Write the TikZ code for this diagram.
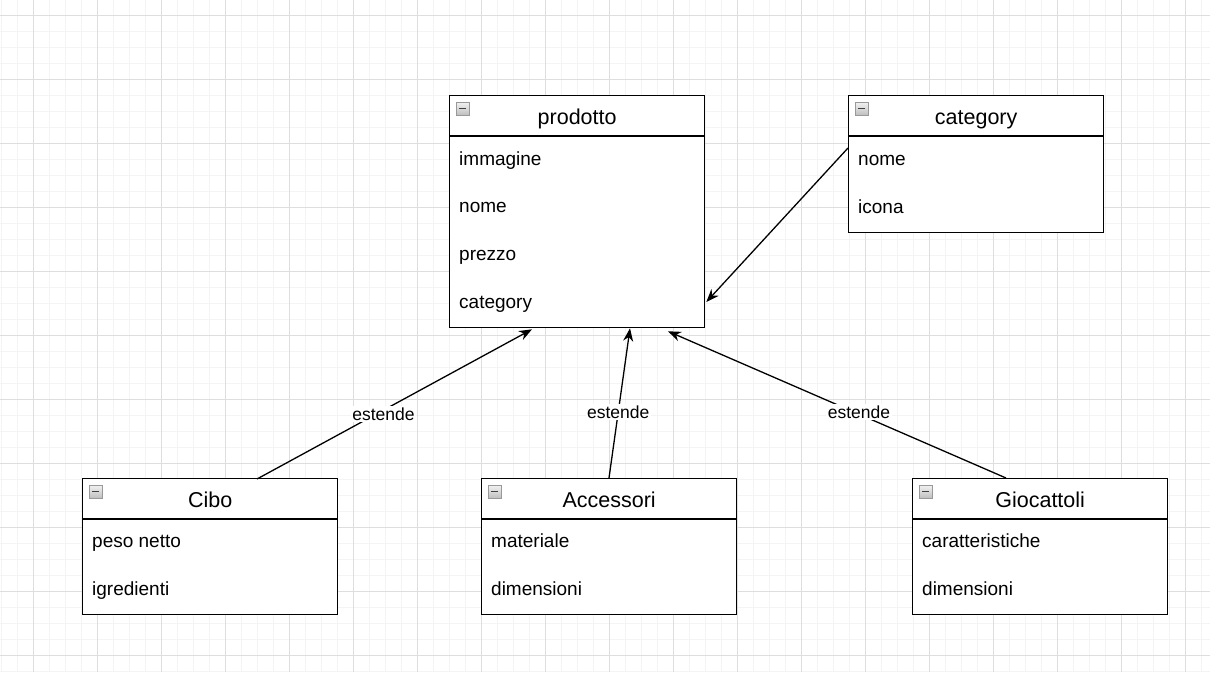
\documentclass[tikz,border=0pt]{standalone}
\usepackage{fontspec}
\setmainfont{Liberation Sans}
\usetikzlibrary{positioning,calc,arrows.meta}

\definecolor{minorgrid}{RGB}{244,244,244}
\definecolor{majorgrid}{RGB}{222,222,222}

% piccola icona "comprimi" in alto a sinistra di ogni classe
\newcommand{\collapseicon}[1]{%
  \shade[top color=gray!10, bottom color=gray!50, draw=gray!80, line width=0.6pt]
    ($(#1)+(7,7)$) rectangle ++(13,13);
  \draw[line width=1.4pt, black!75] ($(#1)+(10,13.5)$) -- ++(7,0);
}

\begin{document}
\begin{tikzpicture}[x=1pt, y=-1pt,
    classbox/.style={draw=black, line width=1.3pt, fill=white, minimum width=255pt,
      anchor=north west, inner sep=0pt},
    classtitle/.style={anchor=base, inner sep=0pt, font=\fontsize{21.5}{25}\selectfont},
    attr/.style={anchor=base west, inner sep=0pt, font=\fontsize{19}{23}\selectfont},
    conn/.style={-{Stealth[length=13pt, width=10pt]}, line width=1.3pt, black},
    lbl/.style={fill=white, inner sep=1.5pt, font=\fontsize{17.5}{21}\selectfont}]

\useasboundingbox (0,0) rectangle (1210,672);
\fill[white] (0,0) rectangle (1210,672);

% --- griglia di sfondo ---
\foreach \gx in {1,17,...,1209} \draw[minorgrid, line width=0.8pt] (\gx,0) -- (\gx,672);
\foreach \gy in {-1,15,...,671} \draw[minorgrid, line width=0.8pt] (0,\gy) -- (1210,\gy);
\foreach \gx in {33,97,...,1209} \draw[majorgrid, line width=0.9pt] (\gx,0) -- (\gx,672);
\foreach \gy in {15,79,...,671} \draw[majorgrid, line width=0.9pt] (0,\gy) -- (1210,\gy);

% --- classi ---
\node[classbox, minimum height=232pt] (prodotto) at (449,95) {};
\node[classbox, minimum height=137pt] (category) at (848,95) {};
\node[classbox, minimum height=136pt] (cibo) at (82,478) {};
\node[classbox, minimum height=136pt] (accessori) at (481,478) {};
\node[classbox, minimum height=136pt] (giocattoli) at (912,478) {};

% intestazioni
\foreach \cls/\title in {prodotto/prodotto, category/category, cibo/Cibo,
    accessori/Accessori, giocattoli/Giocattoli} {
  \draw[line width=1.3pt] ($(\cls.north west)+(0,41)$) -- ($(\cls.north east)+(0,41)$);
  \node[classtitle] (\cls-title) at ($(\cls.north)+(0,29.5)$) {\title};
  \collapseicon{\cls.north west}
}

% attributi
\foreach \txt [count=\i] in {immagine, nome, prezzo, category}
  \node[attr] (prodotto-a\i) at ($(prodotto.north west)+(10,{70+47.7*(\i-1)})$) {\txt};
\foreach \txt [count=\i] in {nome, icona}
  \node[attr] (category-a\i) at ($(category.north west)+(10,{70+48*(\i-1)})$) {\txt};
\foreach \txt [count=\i] in {peso netto, igredienti}
  \node[attr] (cibo-a\i) at ($(cibo.north west)+(10,{69+48*(\i-1)})$) {\txt};
\foreach \txt [count=\i] in {materiale, dimensioni}
  \node[attr] (accessori-a\i) at ($(accessori.north west)+(10,{69+48*(\i-1)})$) {\txt};
\foreach \txt [count=\i] in {caratteristiche, dimensioni}
  \node[attr] (giocattoli-a\i) at ($(giocattoli.north west)+(10,{69+48*(\i-1)})$) {\txt};

% --- collegamenti ---
\draw[conn] ($(category.north west)+(0,53)$) -- ($(prodotto.north east)+(1,207)$);
\draw[conn] ($(cibo.north west)+(175,1)$)
  -- node[lbl, pos=0.46, yshift=-4pt] (lbl-cibo) {estende} ($(prodotto.south west)+(83,1)$);
\draw[conn] ($(accessori.north west)+(128,0)$)
  -- node[lbl, pos=0.44] (lbl-accessori) {estende} ($(prodotto.south west)+(181,0)$);
\draw[conn] ($(giocattoli.north west)+(94,0)$)
  -- node[lbl, pos=0.435, yshift=2pt] (lbl-giocattoli) {estende} ($(prodotto.south west)+(219,3)$);

\end{tikzpicture}
\end{document}
